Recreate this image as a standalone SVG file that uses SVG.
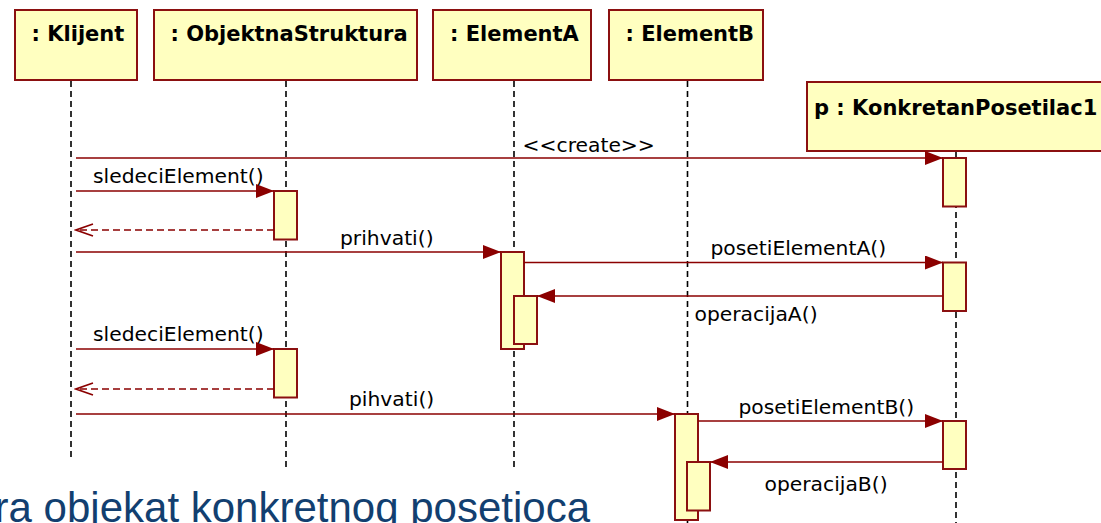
<svg xmlns="http://www.w3.org/2000/svg" width="1101" height="523" viewBox="0 0 1101 523">
<style>
.box{fill:#ffffc0;stroke:#8b1010;stroke-width:2}
.act{fill:#ffffc0;stroke:#8b1010;stroke-width:2}
.life{stroke:#000;stroke-width:1.6;stroke-dasharray:6,4;fill:none}
.hdr{font-family:"DejaVu Sans",Verdana,sans-serif;font-weight:bold;font-size:21px;fill:#000}
.lbl{font-family:"DejaVu Sans",Verdana,sans-serif;font-size:20.3px;fill:#000}
.msg{stroke:#8b0000;stroke-width:1.6;fill:none;marker-end:url(#fa)}
.ret{stroke:#8b0000;stroke-width:1.6;fill:none;stroke-dasharray:7,4;marker-end:url(#oa)}
.cap{font-family:"Liberation Sans",Arial,sans-serif;font-size:42px;fill:#123f70}
</style>
<defs>
<marker id="fa" markerUnits="userSpaceOnUse" viewBox="0 0 18 14" refX="18" refY="7" markerWidth="18" markerHeight="14" orient="auto">
<path d="M0,0 L18,7 L0,14 z" fill="#8b0000"/>
</marker>
<marker id="oa" markerUnits="userSpaceOnUse" viewBox="-1 -1 20 14" refX="17" refY="6" markerWidth="20" markerHeight="14" orient="auto">
<path d="M0,0 L17,6 L0,12" fill="none" stroke="#8b0000" stroke-width="1.6"/>
</marker>
</defs>
<rect width="1101" height="523" fill="#fff"/>
<g id="klijent">
<line class="life" x1="71" y1="81" x2="71" y2="460"/>
<rect class="box" x="15" y="10" width="122" height="70"/>
<text class="hdr" x="31.5" y="40.5">: Klijent</text>
</g>
<g id="objektnaStruktura">
<line class="life" x1="286" y1="81" x2="286" y2="471"/>
<rect class="box" x="154" y="10" width="263" height="70"/>
<text class="hdr" x="170.5" y="40.5">: ObjektnaStruktura</text>
<rect class="act" x="274" y="191" width="23" height="48.5"/>
<rect class="act" x="274" y="349" width="23" height="48.5"/>
</g>
<g id="elementA">
<line class="life" x1="514" y1="81" x2="514" y2="471"/>
<rect class="box" x="433" y="10" width="158" height="70"/>
<text class="hdr" x="450" y="40.5">: ElementA</text>
<rect class="act" x="501" y="252" width="23" height="97"/>
<rect class="act" x="514" y="296" width="23" height="48"/>
</g>
<g id="elementB">
<line class="life" x1="687.5" y1="81" x2="687.5" y2="523"/>
<rect class="box" x="609" y="10" width="154" height="70"/>
<text class="hdr" x="625.5" y="40.5">: ElementB</text>
<rect class="act" x="675" y="414" width="23" height="106"/>
<rect class="act" x="687" y="462" width="23" height="48.5"/>
</g>
<g id="konkretanPosetilac1">
<line class="life" x1="956" y1="152" x2="956" y2="523"/>
<rect class="box" x="807" y="82" width="310" height="69"/>
<text class="hdr" x="814" y="115">p : KonkretanPosetilac1</text>
<rect class="act" x="943" y="158" width="23" height="48.5"/>
<rect class="act" x="943" y="262.5" width="23" height="48.5"/>
<rect class="act" x="943" y="421" width="23" height="48"/>
</g>
<g id="connectors">
<line class="msg" x1="76" y1="158" x2="943" y2="158"/>
<text class="lbl" x="522.5" y="152">&lt;&lt;create&gt;&gt;</text>
<line class="msg" x1="76" y1="191" x2="274" y2="191"/>
<text class="lbl" x="93" y="183">sledeciElement()</text>
<line class="ret" x1="274" y1="230" x2="76" y2="230"/>
<line class="msg" x1="76" y1="252" x2="501" y2="252"/>
<text class="lbl" x="340" y="245">prihvati()</text>
<line class="msg" x1="524" y1="262.5" x2="943" y2="262.5"/>
<text class="lbl" x="710.5" y="255">posetiElementA()</text>
<line class="msg" x1="943" y1="296" x2="537" y2="296"/>
<text class="lbl" x="694.5" y="320.5">operacijaA()</text>
<line class="msg" x1="76" y1="349" x2="274" y2="349"/>
<text class="lbl" x="93" y="341">sledeciElement()</text>
<line class="ret" x1="274" y1="389" x2="76" y2="389"/>
<line class="msg" x1="76" y1="414" x2="675" y2="414"/>
<text class="lbl" x="349" y="405.5">pihvati()</text>
<line class="msg" x1="698" y1="421" x2="943" y2="421"/>
<text class="lbl" x="738.5" y="414">posetiElementB()</text>
<line class="msg" x1="943" y1="462" x2="710" y2="462"/>
<text class="lbl" x="764.5" y="490.5">operacijaB()</text>
</g>
<text class="cap" x="590" y="522" text-anchor="end">ra objekat konkretnog posetioca</text>
</svg>
